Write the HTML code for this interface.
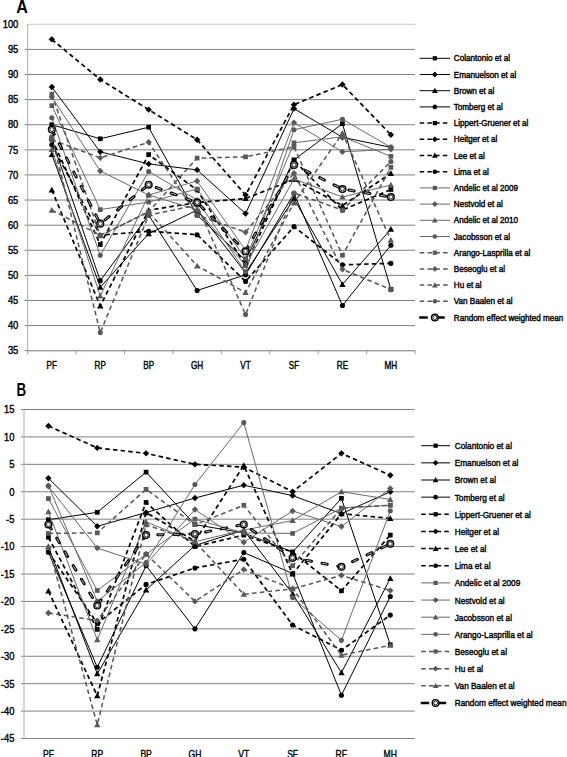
<!DOCTYPE html>
<html><head><meta charset="utf-8"><style>
html,body{margin:0;padding:0;background:#fff;}
body{width:567px;height:757px;overflow:hidden;}
svg{display:block;}
</style></head><body>
<svg width="567" height="757" viewBox="0 0 567 757">
<rect width="567" height="757" fill="#fff"/>
<text x="16.3" y="12.9" font-size="18.5" font-weight="bold" font-family="Liberation Sans, sans-serif" transform="translate(16.3,0) scale(0.87,1) translate(-16.3,0)">A</text>
<text x="16.6" y="396.5" font-size="18.5" font-weight="bold" font-family="Liberation Sans, sans-serif" transform="translate(16.6,0) scale(0.72,1) translate(-16.6,0)">B</text>
<line x1="27.60" y1="24.30" x2="415.10" y2="24.30" stroke="#c8c8c8" stroke-width="1"/>
<text x="18.30" y="28.05" text-anchor="end" font-size="10.4" font-family="Liberation Sans, sans-serif" fill="#000" stroke="#000" stroke-width="0.4" transform="translate(18.30,0) scale(0.9,1) translate(-18.30,0)">100</text>
<line x1="24.60" y1="49.41" x2="415.10" y2="49.41" stroke="#7f7f7f" stroke-width="1"/>
<text x="18.30" y="53.16" text-anchor="end" font-size="10.4" font-family="Liberation Sans, sans-serif" fill="#000" stroke="#000" stroke-width="0.4" transform="translate(18.30,0) scale(0.9,1) translate(-18.30,0)">95</text>
<line x1="24.60" y1="74.52" x2="415.10" y2="74.52" stroke="#7f7f7f" stroke-width="1"/>
<text x="18.30" y="78.27" text-anchor="end" font-size="10.4" font-family="Liberation Sans, sans-serif" fill="#000" stroke="#000" stroke-width="0.4" transform="translate(18.30,0) scale(0.9,1) translate(-18.30,0)">90</text>
<line x1="24.60" y1="99.62" x2="415.10" y2="99.62" stroke="#7f7f7f" stroke-width="1"/>
<text x="18.30" y="103.37" text-anchor="end" font-size="10.4" font-family="Liberation Sans, sans-serif" fill="#000" stroke="#000" stroke-width="0.4" transform="translate(18.30,0) scale(0.9,1) translate(-18.30,0)">85</text>
<line x1="24.60" y1="124.73" x2="415.10" y2="124.73" stroke="#7f7f7f" stroke-width="1"/>
<text x="18.30" y="128.48" text-anchor="end" font-size="10.4" font-family="Liberation Sans, sans-serif" fill="#000" stroke="#000" stroke-width="0.4" transform="translate(18.30,0) scale(0.9,1) translate(-18.30,0)">80</text>
<line x1="24.60" y1="149.84" x2="415.10" y2="149.84" stroke="#7f7f7f" stroke-width="1"/>
<text x="18.30" y="153.59" text-anchor="end" font-size="10.4" font-family="Liberation Sans, sans-serif" fill="#000" stroke="#000" stroke-width="0.4" transform="translate(18.30,0) scale(0.9,1) translate(-18.30,0)">75</text>
<line x1="24.60" y1="174.95" x2="415.10" y2="174.95" stroke="#7f7f7f" stroke-width="1"/>
<text x="18.30" y="178.70" text-anchor="end" font-size="10.4" font-family="Liberation Sans, sans-serif" fill="#000" stroke="#000" stroke-width="0.4" transform="translate(18.30,0) scale(0.9,1) translate(-18.30,0)">70</text>
<line x1="24.60" y1="200.05" x2="415.10" y2="200.05" stroke="#7f7f7f" stroke-width="1"/>
<text x="18.30" y="203.80" text-anchor="end" font-size="10.4" font-family="Liberation Sans, sans-serif" fill="#000" stroke="#000" stroke-width="0.4" transform="translate(18.30,0) scale(0.9,1) translate(-18.30,0)">65</text>
<line x1="24.60" y1="225.16" x2="415.10" y2="225.16" stroke="#7f7f7f" stroke-width="1"/>
<text x="18.30" y="228.91" text-anchor="end" font-size="10.4" font-family="Liberation Sans, sans-serif" fill="#000" stroke="#000" stroke-width="0.4" transform="translate(18.30,0) scale(0.9,1) translate(-18.30,0)">60</text>
<line x1="24.60" y1="250.27" x2="415.10" y2="250.27" stroke="#7f7f7f" stroke-width="1"/>
<text x="18.30" y="254.02" text-anchor="end" font-size="10.4" font-family="Liberation Sans, sans-serif" fill="#000" stroke="#000" stroke-width="0.4" transform="translate(18.30,0) scale(0.9,1) translate(-18.30,0)">55</text>
<line x1="24.60" y1="275.38" x2="415.10" y2="275.38" stroke="#7f7f7f" stroke-width="1"/>
<text x="18.30" y="279.13" text-anchor="end" font-size="10.4" font-family="Liberation Sans, sans-serif" fill="#000" stroke="#000" stroke-width="0.4" transform="translate(18.30,0) scale(0.9,1) translate(-18.30,0)">50</text>
<line x1="24.60" y1="300.48" x2="415.10" y2="300.48" stroke="#7f7f7f" stroke-width="1"/>
<text x="18.30" y="304.23" text-anchor="end" font-size="10.4" font-family="Liberation Sans, sans-serif" fill="#000" stroke="#000" stroke-width="0.4" transform="translate(18.30,0) scale(0.9,1) translate(-18.30,0)">45</text>
<line x1="24.60" y1="325.59" x2="415.10" y2="325.59" stroke="#7f7f7f" stroke-width="1"/>
<text x="18.30" y="329.34" text-anchor="end" font-size="10.4" font-family="Liberation Sans, sans-serif" fill="#000" stroke="#000" stroke-width="0.4" transform="translate(18.30,0) scale(0.9,1) translate(-18.30,0)">40</text>
<line x1="24.60" y1="350.70" x2="415.10" y2="350.70" stroke="#7f7f7f" stroke-width="1"/>
<text x="18.30" y="354.45" text-anchor="end" font-size="10.4" font-family="Liberation Sans, sans-serif" fill="#000" stroke="#000" stroke-width="0.4" transform="translate(18.30,0) scale(0.9,1) translate(-18.30,0)">35</text>
<line x1="27.60" y1="24.30" x2="27.60" y2="353.70" stroke="#b4b4b4" stroke-width="1.1"/>
<line x1="27.60" y1="350.70" x2="415.10" y2="350.70" stroke="#9a9a9a" stroke-width="1"/>
<line x1="27.60" y1="350.70" x2="27.60" y2="354.20" stroke="#9a9a9a" stroke-width="1"/>
<line x1="76.04" y1="350.70" x2="76.04" y2="354.20" stroke="#9a9a9a" stroke-width="1"/>
<line x1="124.47" y1="350.70" x2="124.47" y2="354.20" stroke="#9a9a9a" stroke-width="1"/>
<line x1="172.91" y1="350.70" x2="172.91" y2="354.20" stroke="#9a9a9a" stroke-width="1"/>
<line x1="221.35" y1="350.70" x2="221.35" y2="354.20" stroke="#9a9a9a" stroke-width="1"/>
<line x1="269.79" y1="350.70" x2="269.79" y2="354.20" stroke="#9a9a9a" stroke-width="1"/>
<line x1="318.23" y1="350.70" x2="318.23" y2="354.20" stroke="#9a9a9a" stroke-width="1"/>
<line x1="366.66" y1="350.70" x2="366.66" y2="354.20" stroke="#9a9a9a" stroke-width="1"/>
<line x1="415.10" y1="350.70" x2="415.10" y2="354.20" stroke="#9a9a9a" stroke-width="1"/>
<text x="51.82" y="368.60" text-anchor="middle" font-size="10.2" font-family="Liberation Sans, sans-serif" fill="#000" stroke="#000" stroke-width="0.4" transform="translate(51.82,0) scale(0.8,1) translate(-51.82,0)">PF</text>
<text x="100.26" y="368.60" text-anchor="middle" font-size="10.2" font-family="Liberation Sans, sans-serif" fill="#000" stroke="#000" stroke-width="0.4" transform="translate(100.26,0) scale(0.8,1) translate(-100.26,0)">RP</text>
<text x="148.69" y="368.60" text-anchor="middle" font-size="10.2" font-family="Liberation Sans, sans-serif" fill="#000" stroke="#000" stroke-width="0.4" transform="translate(148.69,0) scale(0.8,1) translate(-148.69,0)">BP</text>
<text x="197.13" y="368.60" text-anchor="middle" font-size="10.2" font-family="Liberation Sans, sans-serif" fill="#000" stroke="#000" stroke-width="0.4" transform="translate(197.13,0) scale(0.8,1) translate(-197.13,0)">GH</text>
<text x="245.57" y="368.60" text-anchor="middle" font-size="10.2" font-family="Liberation Sans, sans-serif" fill="#000" stroke="#000" stroke-width="0.4" transform="translate(245.57,0) scale(0.8,1) translate(-245.57,0)">VT</text>
<text x="294.01" y="368.60" text-anchor="middle" font-size="10.2" font-family="Liberation Sans, sans-serif" fill="#000" stroke="#000" stroke-width="0.4" transform="translate(294.01,0) scale(0.8,1) translate(-294.01,0)">SF</text>
<text x="342.44" y="368.60" text-anchor="middle" font-size="10.2" font-family="Liberation Sans, sans-serif" fill="#000" stroke="#000" stroke-width="0.4" transform="translate(342.44,0) scale(0.8,1) translate(-342.44,0)">RE</text>
<text x="390.88" y="368.60" text-anchor="middle" font-size="10.2" font-family="Liberation Sans, sans-serif" fill="#000" stroke="#000" stroke-width="0.4" transform="translate(390.88,0) scale(0.8,1) translate(-390.88,0)">MH</text>
<polyline points="51.82,124.73 100.26,138.79 148.69,127.24 197.13,215.12 245.57,260.31 294.01,159.88 342.44,123.73 390.88,289.44" fill="none" stroke="#000" stroke-width="1.0" stroke-linejoin="round"/><rect x="49.47" y="122.38" width="4.70" height="4.70" fill="#000"/><rect x="97.91" y="136.44" width="4.70" height="4.70" fill="#000"/><rect x="146.34" y="124.89" width="4.70" height="4.70" fill="#000"/><rect x="194.78" y="212.77" width="4.70" height="4.70" fill="#000"/><rect x="243.22" y="257.96" width="4.70" height="4.70" fill="#000"/><rect x="291.66" y="157.53" width="4.70" height="4.70" fill="#000"/><rect x="340.09" y="121.38" width="4.70" height="4.70" fill="#000"/><rect x="388.53" y="287.09" width="4.70" height="4.70" fill="#000"/>
<polyline points="51.82,87.07 100.26,151.85 148.69,163.90 197.13,169.92 245.57,213.61 294.01,108.66 342.44,137.28 390.88,147.33" fill="none" stroke="#000" stroke-width="1.0" stroke-linejoin="round"/><path d="M51.82 83.87L55.02 87.07L51.82 90.27L48.62 87.07Z" fill="#000"/><path d="M100.26 148.65L103.46 151.85L100.26 155.05L97.06 151.85Z" fill="#000"/><path d="M148.69 160.70L151.89 163.90L148.69 167.10L145.49 163.90Z" fill="#000"/><path d="M197.13 166.72L200.33 169.92L197.13 173.12L193.93 169.92Z" fill="#000"/><path d="M245.57 210.41L248.77 213.61L245.57 216.81L242.37 213.61Z" fill="#000"/><path d="M294.01 105.46L297.21 108.66L294.01 111.86L290.81 108.66Z" fill="#000"/><path d="M342.44 134.08L345.64 137.28L342.44 140.48L339.24 137.28Z" fill="#000"/><path d="M390.88 144.13L394.08 147.33L390.88 150.53L387.68 147.33Z" fill="#000"/>
<polyline points="51.82,154.36 100.26,287.18 148.69,233.70 197.13,210.10 245.57,272.87 294.01,198.55 342.44,284.42 390.88,229.18" fill="none" stroke="#000" stroke-width="1.0" stroke-linejoin="round"/><path d="M51.82 151.16L55.02 156.92L48.62 156.92Z" fill="#000"/><path d="M100.26 283.98L103.46 289.74L97.06 289.74Z" fill="#000"/><path d="M148.69 230.50L151.89 236.26L145.49 236.26Z" fill="#000"/><path d="M197.13 206.90L200.33 212.66L193.93 212.66Z" fill="#000"/><path d="M245.57 269.67L248.77 275.43L242.37 275.43Z" fill="#000"/><path d="M294.01 195.35L297.21 201.11L290.81 201.11Z" fill="#000"/><path d="M342.44 281.22L345.64 286.98L339.24 286.98Z" fill="#000"/><path d="M390.88 225.98L394.08 231.74L387.68 231.74Z" fill="#000"/>
<polyline points="51.82,139.80 100.26,280.65 148.69,215.12 197.13,290.44 245.57,274.87 294.01,193.53 342.44,305.51 390.88,245.25" fill="none" stroke="#000" stroke-width="1.0" stroke-linejoin="round"/><circle cx="51.82" cy="139.80" r="2.55" fill="#000"/><circle cx="100.26" cy="280.65" r="2.55" fill="#000"/><circle cx="148.69" cy="215.12" r="2.55" fill="#000"/><circle cx="197.13" cy="290.44" r="2.55" fill="#000"/><circle cx="245.57" cy="274.87" r="2.55" fill="#000"/><circle cx="294.01" cy="193.53" r="2.55" fill="#000"/><circle cx="342.44" cy="305.51" r="2.55" fill="#000"/><circle cx="390.88" cy="245.25" r="2.55" fill="#000"/>
<polyline points="51.82,138.79 100.26,244.49 148.69,154.56 197.13,190.01 245.57,265.33 294.01,160.38 342.44,210.10 390.88,189.51" fill="none" stroke="#000" stroke-width="1.7" stroke-dasharray="4.5 3.2" stroke-linejoin="round"/><rect x="49.47" y="136.44" width="4.70" height="4.70" fill="#000"/><rect x="97.91" y="242.14" width="4.70" height="4.70" fill="#000"/><rect x="146.34" y="152.21" width="4.70" height="4.70" fill="#000"/><rect x="194.78" y="187.66" width="4.70" height="4.70" fill="#000"/><rect x="243.22" y="262.98" width="4.70" height="4.70" fill="#000"/><rect x="291.66" y="158.03" width="4.70" height="4.70" fill="#000"/><rect x="340.09" y="207.75" width="4.70" height="4.70" fill="#000"/><rect x="388.53" y="187.16" width="4.70" height="4.70" fill="#000"/>
<polyline points="51.82,39.36 100.26,79.54 148.69,109.67 197.13,139.80 245.57,195.03 294.01,104.64 342.44,84.56 390.88,134.77" fill="none" stroke="#000" stroke-width="1.7" stroke-dasharray="4.5 3.2" stroke-linejoin="round"/><path d="M51.82 36.16L55.02 39.36L51.82 42.56L48.62 39.36Z" fill="#000"/><path d="M100.26 76.34L103.46 79.54L100.26 82.74L97.06 79.54Z" fill="#000"/><path d="M148.69 106.47L151.89 109.67L148.69 112.87L145.49 109.67Z" fill="#000"/><path d="M197.13 136.60L200.33 139.80L197.13 143.00L193.93 139.80Z" fill="#000"/><path d="M245.57 191.83L248.77 195.03L245.57 198.23L242.37 195.03Z" fill="#000"/><path d="M294.01 101.44L297.21 104.64L294.01 107.84L290.81 104.64Z" fill="#000"/><path d="M342.44 81.36L345.64 84.56L342.44 87.76L339.24 84.56Z" fill="#000"/><path d="M390.88 131.57L394.08 134.77L390.88 137.97L387.68 134.77Z" fill="#000"/>
<polyline points="51.82,190.01 100.26,306.01 148.69,210.10 197.13,202.56 245.57,198.55 294.01,179.47 342.44,205.58 390.88,173.44" fill="none" stroke="#000" stroke-width="1.7" stroke-dasharray="4.5 3.2" stroke-linejoin="round"/><path d="M51.82 186.81L55.02 192.57L48.62 192.57Z" fill="#000"/><path d="M100.26 302.81L103.46 308.57L97.06 308.57Z" fill="#000"/><path d="M148.69 206.90L151.89 212.66L145.49 212.66Z" fill="#000"/><path d="M197.13 199.36L200.33 205.12L193.93 205.12Z" fill="#000"/><path d="M245.57 195.35L248.77 201.11L242.37 201.11Z" fill="#000"/><path d="M294.01 176.27L297.21 182.03L290.81 182.03Z" fill="#000"/><path d="M342.44 202.38L345.64 208.14L339.24 208.14Z" fill="#000"/><path d="M390.88 170.24L394.08 176.00L387.68 176.00Z" fill="#000"/>
<polyline points="51.82,144.82 100.26,235.20 148.69,231.19 197.13,234.70 245.57,281.40 294.01,226.67 342.44,264.83 390.88,263.33" fill="none" stroke="#000" stroke-width="1.7" stroke-dasharray="4.5 3.2" stroke-linejoin="round"/><circle cx="51.82" cy="144.82" r="2.55" fill="#000"/><circle cx="100.26" cy="235.20" r="2.55" fill="#000"/><circle cx="148.69" cy="231.19" r="2.55" fill="#000"/><circle cx="197.13" cy="234.70" r="2.55" fill="#000"/><circle cx="245.57" cy="281.40" r="2.55" fill="#000"/><circle cx="294.01" cy="226.67" r="2.55" fill="#000"/><circle cx="342.44" cy="264.83" r="2.55" fill="#000"/><circle cx="390.88" cy="263.33" r="2.55" fill="#000"/>
<polyline points="51.82,105.65 100.26,209.59 148.69,202.06 197.13,189.01 245.57,258.81 294.01,142.81 342.44,136.78 390.88,156.37" fill="none" stroke="#6a6a6a" stroke-width="1.0" stroke-linejoin="round"/><rect x="49.47" y="103.30" width="4.70" height="4.70" fill="#595959"/><rect x="97.91" y="207.24" width="4.70" height="4.70" fill="#595959"/><rect x="146.34" y="199.71" width="4.70" height="4.70" fill="#595959"/><rect x="194.78" y="186.66" width="4.70" height="4.70" fill="#595959"/><rect x="243.22" y="256.46" width="4.70" height="4.70" fill="#595959"/><rect x="291.66" y="140.46" width="4.70" height="4.70" fill="#595959"/><rect x="340.09" y="134.43" width="4.70" height="4.70" fill="#595959"/><rect x="388.53" y="154.02" width="4.70" height="4.70" fill="#595959"/>
<polyline points="51.82,97.11 100.26,170.93 148.69,195.03 197.13,180.97 245.57,250.27 294.01,122.72 342.44,151.85 390.88,149.34" fill="none" stroke="#6a6a6a" stroke-width="1.0" stroke-linejoin="round"/><path d="M51.82 93.91L55.02 97.11L51.82 100.31L48.62 97.11Z" fill="#595959"/><path d="M100.26 167.73L103.46 170.93L100.26 174.13L97.06 170.93Z" fill="#595959"/><path d="M148.69 191.83L151.89 195.03L148.69 198.23L145.49 195.03Z" fill="#595959"/><path d="M197.13 177.77L200.33 180.97L197.13 184.17L193.93 180.97Z" fill="#595959"/><path d="M245.57 247.07L248.77 250.27L245.57 253.47L242.37 250.27Z" fill="#595959"/><path d="M294.01 119.52L297.21 122.72L294.01 125.92L290.81 122.72Z" fill="#595959"/><path d="M342.44 148.65L345.64 151.85L342.44 155.05L339.24 151.85Z" fill="#595959"/><path d="M390.88 146.14L394.08 149.34L390.88 152.54L387.68 149.34Z" fill="#595959"/>
<polyline points="51.82,149.34 100.26,295.97 148.69,195.03 197.13,209.59 245.57,265.33 294.01,178.96 342.44,197.04 390.88,184.99" fill="none" stroke="#6a6a6a" stroke-width="1.0" stroke-linejoin="round"/><path d="M51.82 146.14L55.02 151.90L48.62 151.90Z" fill="#595959"/><path d="M100.26 292.77L103.46 298.53L97.06 298.53Z" fill="#595959"/><path d="M148.69 191.83L151.89 197.59L145.49 197.59Z" fill="#595959"/><path d="M197.13 206.39L200.33 212.15L193.93 212.15Z" fill="#595959"/><path d="M245.57 262.13L248.77 267.89L242.37 267.89Z" fill="#595959"/><path d="M294.01 175.76L297.21 181.52L290.81 181.52Z" fill="#595959"/><path d="M342.44 193.84L345.64 199.60L339.24 199.60Z" fill="#595959"/><path d="M390.88 181.79L394.08 187.55L387.68 187.55Z" fill="#595959"/>
<polyline points="51.82,117.70 100.26,255.29 148.69,171.43 197.13,200.05 245.57,271.86 294.01,129.75 342.44,119.21 390.88,147.33" fill="none" stroke="#6a6a6a" stroke-width="1.0" stroke-linejoin="round"/><circle cx="51.82" cy="117.70" r="2.55" fill="#595959"/><circle cx="100.26" cy="255.29" r="2.55" fill="#595959"/><circle cx="148.69" cy="171.43" r="2.55" fill="#595959"/><circle cx="197.13" cy="200.05" r="2.55" fill="#595959"/><circle cx="245.57" cy="271.86" r="2.55" fill="#595959"/><circle cx="294.01" cy="129.75" r="2.55" fill="#595959"/><circle cx="342.44" cy="119.21" r="2.55" fill="#595959"/><circle cx="390.88" cy="147.33" r="2.55" fill="#595959"/>
<polyline points="51.82,94.10 100.26,235.96 148.69,211.60 197.13,158.12 245.57,156.87 294.01,146.83 342.44,255.29 390.88,167.41" fill="none" stroke="#555" stroke-width="1.5" stroke-dasharray="4.6 3.2" stroke-linejoin="round"/><rect x="49.47" y="91.75" width="4.70" height="4.70" fill="#595959"/><rect x="97.91" y="233.61" width="4.70" height="4.70" fill="#595959"/><rect x="146.34" y="209.25" width="4.70" height="4.70" fill="#595959"/><rect x="194.78" y="155.77" width="4.70" height="4.70" fill="#595959"/><rect x="243.22" y="154.52" width="4.70" height="4.70" fill="#595959"/><rect x="291.66" y="144.48" width="4.70" height="4.70" fill="#595959"/><rect x="340.09" y="252.94" width="4.70" height="4.70" fill="#595959"/><rect x="388.53" y="165.06" width="4.70" height="4.70" fill="#595959"/>
<polyline points="51.82,139.80 100.26,157.87 148.69,142.31 197.13,215.12 245.57,232.19 294.01,173.19 342.44,269.35 390.88,289.44" fill="none" stroke="#555" stroke-width="1.5" stroke-dasharray="4.6 3.2" stroke-linejoin="round"/><path d="M51.82 136.60L55.02 139.80L51.82 143.00L48.62 139.80Z" fill="#595959"/><path d="M100.26 154.67L103.46 157.87L100.26 161.07L97.06 157.87Z" fill="#595959"/><path d="M148.69 139.11L151.89 142.31L148.69 145.51L145.49 142.31Z" fill="#595959"/><path d="M197.13 211.92L200.33 215.12L197.13 218.32L193.93 215.12Z" fill="#595959"/><path d="M245.57 228.99L248.77 232.19L245.57 235.39L242.37 232.19Z" fill="#595959"/><path d="M294.01 169.99L297.21 173.19L294.01 176.39L290.81 173.19Z" fill="#595959"/><path d="M342.44 266.15L345.64 269.35L342.44 272.55L339.24 269.35Z" fill="#595959"/><path d="M390.88 286.24L394.08 289.44L390.88 292.64L387.68 289.44Z" fill="#595959"/>
<polyline points="51.82,210.10 100.26,235.20 148.69,212.11 197.13,265.84 245.57,292.45 294.01,202.82 342.44,133.27 390.88,240.23" fill="none" stroke="#555" stroke-width="1.5" stroke-dasharray="4.6 3.2" stroke-linejoin="round"/><path d="M51.82 206.90L55.02 212.66L48.62 212.66Z" fill="#595959"/><path d="M100.26 232.00L103.46 237.76L97.06 237.76Z" fill="#595959"/><path d="M148.69 208.91L151.89 214.67L145.49 214.67Z" fill="#595959"/><path d="M197.13 262.64L200.33 268.40L193.93 268.40Z" fill="#595959"/><path d="M245.57 289.25L248.77 295.01L242.37 295.01Z" fill="#595959"/><path d="M294.01 199.62L297.21 205.38L290.81 205.38Z" fill="#595959"/><path d="M342.44 130.07L345.64 135.83L339.24 135.83Z" fill="#595959"/><path d="M390.88 237.03L394.08 242.79L387.68 242.79Z" fill="#595959"/>
<polyline points="51.82,136.78 100.26,332.62 148.69,215.12 197.13,205.08 245.57,314.54 294.01,193.02 342.44,210.10 390.88,161.64" fill="none" stroke="#555" stroke-width="1.5" stroke-dasharray="4.6 3.2" stroke-linejoin="round"/><circle cx="51.82" cy="136.78" r="2.55" fill="#595959"/><circle cx="100.26" cy="332.62" r="2.55" fill="#595959"/><circle cx="148.69" cy="215.12" r="2.55" fill="#595959"/><circle cx="197.13" cy="205.08" r="2.55" fill="#595959"/><circle cx="245.57" cy="314.54" r="2.55" fill="#595959"/><circle cx="294.01" cy="193.02" r="2.55" fill="#595959"/><circle cx="342.44" cy="210.10" r="2.55" fill="#595959"/><circle cx="390.88" cy="161.64" r="2.55" fill="#595959"/>
<polyline points="51.82,129.50 100.26,223.66 148.69,184.74 197.13,202.56 245.57,251.27 294.01,164.90 342.44,189.01 390.88,197.04" fill="none" stroke="#000" stroke-width="3.0" stroke-linecap="round" stroke-dasharray="5.3 10.7"/><polyline points="51.82,129.50 100.26,223.66 148.69,184.74 197.13,202.56 245.57,251.27 294.01,164.90 342.44,189.01 390.88,197.04" fill="none" stroke="#fff" stroke-opacity="0.85" stroke-width="0.85" stroke-linecap="round" stroke-dasharray="4.3 11.7" stroke-dashoffset="-0.5"/><circle cx="51.82" cy="129.50" r="3.35" fill="#fff" stroke="#000" stroke-width="1.45"/><circle cx="51.82" cy="129.50" r="1.95" fill="#fff" stroke="#111" stroke-width="0.90"/><circle cx="100.26" cy="223.66" r="3.35" fill="#fff" stroke="#000" stroke-width="1.45"/><circle cx="100.26" cy="223.66" r="1.95" fill="#fff" stroke="#111" stroke-width="0.90"/><circle cx="148.69" cy="184.74" r="3.35" fill="#fff" stroke="#000" stroke-width="1.45"/><circle cx="148.69" cy="184.74" r="1.95" fill="#fff" stroke="#111" stroke-width="0.90"/><circle cx="197.13" cy="202.56" r="3.35" fill="#fff" stroke="#000" stroke-width="1.45"/><circle cx="197.13" cy="202.56" r="1.95" fill="#fff" stroke="#111" stroke-width="0.90"/><circle cx="245.57" cy="251.27" r="3.35" fill="#fff" stroke="#000" stroke-width="1.45"/><circle cx="245.57" cy="251.27" r="1.95" fill="#fff" stroke="#111" stroke-width="0.90"/><circle cx="294.01" cy="164.90" r="3.35" fill="#fff" stroke="#000" stroke-width="1.45"/><circle cx="294.01" cy="164.90" r="1.95" fill="#fff" stroke="#111" stroke-width="0.90"/><circle cx="342.44" cy="189.01" r="3.35" fill="#fff" stroke="#000" stroke-width="1.45"/><circle cx="342.44" cy="189.01" r="1.95" fill="#fff" stroke="#111" stroke-width="0.90"/><circle cx="390.88" cy="197.04" r="3.35" fill="#fff" stroke="#000" stroke-width="1.45"/><circle cx="390.88" cy="197.04" r="1.95" fill="#fff" stroke="#111" stroke-width="0.90"/>
<line x1="419.70" y1="58.30" x2="450.00" y2="58.30" stroke="#000" stroke-width="1.0"/>
<rect x="432.74" y="56.18" width="4.23" height="4.23" fill="#000"/>
<text x="453.80" y="61.50" font-size="9" font-family="Liberation Sans, sans-serif" fill="#000" stroke="#000" stroke-width="0.42" transform="translate(453.80,0) scale(0.9,1) translate(-453.80,0)">Colantonio et al</text>
<line x1="419.70" y1="74.50" x2="450.00" y2="74.50" stroke="#000" stroke-width="1.0"/>
<path d="M434.85 71.62L437.73 74.50L434.85 77.38L431.97 74.50Z" fill="#000"/>
<text x="453.80" y="77.70" font-size="9" font-family="Liberation Sans, sans-serif" fill="#000" stroke="#000" stroke-width="0.42" transform="translate(453.80,0) scale(0.9,1) translate(-453.80,0)">Emanuelson et al</text>
<line x1="419.70" y1="90.70" x2="450.00" y2="90.70" stroke="#000" stroke-width="1.0"/>
<path d="M434.85 87.82L437.73 93.00L431.97 93.00Z" fill="#000"/>
<text x="453.80" y="93.90" font-size="9" font-family="Liberation Sans, sans-serif" fill="#000" stroke="#000" stroke-width="0.42" transform="translate(453.80,0) scale(0.9,1) translate(-453.80,0)">Brown et al</text>
<line x1="419.70" y1="106.90" x2="450.00" y2="106.90" stroke="#000" stroke-width="1.0"/>
<circle cx="434.85" cy="106.90" r="2.29" fill="#000"/>
<text x="453.80" y="110.10" font-size="9" font-family="Liberation Sans, sans-serif" fill="#000" stroke="#000" stroke-width="0.42" transform="translate(453.80,0) scale(0.9,1) translate(-453.80,0)">Tomberg et al</text>
<line x1="419.70" y1="123.10" x2="450.00" y2="123.10" stroke="#000" stroke-width="1.5" stroke-dasharray="4.5 3.2"/>
<rect x="432.74" y="120.98" width="4.23" height="4.23" fill="#000"/>
<text x="453.80" y="126.30" font-size="9" font-family="Liberation Sans, sans-serif" fill="#000" stroke="#000" stroke-width="0.42" transform="translate(453.80,0) scale(0.9,1) translate(-453.80,0)">Lippert-Gruener et al</text>
<line x1="419.70" y1="139.30" x2="450.00" y2="139.30" stroke="#000" stroke-width="1.5" stroke-dasharray="4.5 3.2"/>
<path d="M434.85 136.42L437.73 139.30L434.85 142.18L431.97 139.30Z" fill="#000"/>
<text x="453.80" y="142.50" font-size="9" font-family="Liberation Sans, sans-serif" fill="#000" stroke="#000" stroke-width="0.42" transform="translate(453.80,0) scale(0.9,1) translate(-453.80,0)">Heitger et al</text>
<line x1="419.70" y1="155.50" x2="450.00" y2="155.50" stroke="#000" stroke-width="1.5" stroke-dasharray="4.5 3.2"/>
<path d="M434.85 152.62L437.73 157.80L431.97 157.80Z" fill="#000"/>
<text x="453.80" y="158.70" font-size="9" font-family="Liberation Sans, sans-serif" fill="#000" stroke="#000" stroke-width="0.42" transform="translate(453.80,0) scale(0.9,1) translate(-453.80,0)">Lee et al</text>
<line x1="419.70" y1="171.70" x2="450.00" y2="171.70" stroke="#000" stroke-width="1.5" stroke-dasharray="4.5 3.2"/>
<circle cx="434.85" cy="171.70" r="2.29" fill="#000"/>
<text x="453.80" y="174.90" font-size="9" font-family="Liberation Sans, sans-serif" fill="#000" stroke="#000" stroke-width="0.42" transform="translate(453.80,0) scale(0.9,1) translate(-453.80,0)">Lima et al</text>
<line x1="419.70" y1="187.90" x2="450.00" y2="187.90" stroke="#6a6a6a" stroke-width="1.0"/>
<rect x="432.74" y="185.78" width="4.23" height="4.23" fill="#595959"/>
<text x="453.80" y="191.10" font-size="9" font-family="Liberation Sans, sans-serif" fill="#000" stroke="#000" stroke-width="0.42" transform="translate(453.80,0) scale(0.9,1) translate(-453.80,0)">Andelic et al 2009</text>
<line x1="419.70" y1="204.10" x2="450.00" y2="204.10" stroke="#6a6a6a" stroke-width="1.0"/>
<path d="M434.85 201.22L437.73 204.10L434.85 206.98L431.97 204.10Z" fill="#595959"/>
<text x="453.80" y="207.30" font-size="9" font-family="Liberation Sans, sans-serif" fill="#000" stroke="#000" stroke-width="0.42" transform="translate(453.80,0) scale(0.9,1) translate(-453.80,0)">Nestvold et al</text>
<line x1="419.70" y1="220.30" x2="450.00" y2="220.30" stroke="#6a6a6a" stroke-width="1.0"/>
<path d="M434.85 217.42L437.73 222.60L431.97 222.60Z" fill="#595959"/>
<text x="453.80" y="223.50" font-size="9" font-family="Liberation Sans, sans-serif" fill="#000" stroke="#000" stroke-width="0.42" transform="translate(453.80,0) scale(0.9,1) translate(-453.80,0)">Andelic et al 2010</text>
<line x1="419.70" y1="236.50" x2="450.00" y2="236.50" stroke="#6a6a6a" stroke-width="1.0"/>
<circle cx="434.85" cy="236.50" r="2.29" fill="#595959"/>
<text x="453.80" y="239.70" font-size="9" font-family="Liberation Sans, sans-serif" fill="#000" stroke="#000" stroke-width="0.42" transform="translate(453.80,0) scale(0.9,1) translate(-453.80,0)">Jacobsson et al</text>
<line x1="419.70" y1="252.70" x2="450.00" y2="252.70" stroke="#555" stroke-width="1.5" stroke-dasharray="4.6 3.2"/>
<rect x="432.74" y="250.58" width="4.23" height="4.23" fill="#595959"/>
<text x="453.80" y="255.90" font-size="9" font-family="Liberation Sans, sans-serif" fill="#000" stroke="#000" stroke-width="0.42" transform="translate(453.80,0) scale(0.9,1) translate(-453.80,0)">Arango-Lasprilla et al</text>
<line x1="419.70" y1="268.90" x2="450.00" y2="268.90" stroke="#555" stroke-width="1.5" stroke-dasharray="4.6 3.2"/>
<path d="M434.85 266.02L437.73 268.90L434.85 271.78L431.97 268.90Z" fill="#595959"/>
<text x="453.80" y="272.10" font-size="9" font-family="Liberation Sans, sans-serif" fill="#000" stroke="#000" stroke-width="0.42" transform="translate(453.80,0) scale(0.9,1) translate(-453.80,0)">Beseoglu et al</text>
<line x1="419.70" y1="285.10" x2="450.00" y2="285.10" stroke="#555" stroke-width="1.5" stroke-dasharray="4.6 3.2"/>
<path d="M434.85 282.22L437.73 287.40L431.97 287.40Z" fill="#595959"/>
<text x="453.80" y="288.30" font-size="9" font-family="Liberation Sans, sans-serif" fill="#000" stroke="#000" stroke-width="0.42" transform="translate(453.80,0) scale(0.9,1) translate(-453.80,0)">Hu et al</text>
<line x1="419.70" y1="301.30" x2="450.00" y2="301.30" stroke="#555" stroke-width="1.5" stroke-dasharray="4.6 3.2"/>
<circle cx="434.85" cy="301.30" r="2.29" fill="#595959"/>
<text x="453.80" y="304.50" font-size="9" font-family="Liberation Sans, sans-serif" fill="#000" stroke="#000" stroke-width="0.42" transform="translate(453.80,0) scale(0.9,1) translate(-453.80,0)">Van Baalen et al</text>
<line x1="419.20" y1="317.50" x2="450.00" y2="317.50" stroke="#000" stroke-width="2.6" stroke-dasharray="8.5 8.5"/>
<circle cx="434.85" cy="317.50" r="3.35" fill="#fff" stroke="#000" stroke-width="1.45"/><circle cx="434.85" cy="317.50" r="1.95" fill="#fff" stroke="#111" stroke-width="0.90"/>
<text x="453.80" y="320.70" font-size="9" font-family="Liberation Sans, sans-serif" fill="#000" stroke="#000" stroke-width="0.42" transform="translate(453.80,0) scale(0.9,1) translate(-453.80,0)">Random effect weighted mean</text>
<line x1="21.00" y1="409.50" x2="414.70" y2="409.50" stroke="#7f7f7f" stroke-width="1"/>
<text x="14.40" y="413.40" text-anchor="end" font-size="10.9" font-family="Liberation Sans, sans-serif" fill="#000" stroke="#000" stroke-width="0.4" transform="translate(14.40,0) scale(0.86,1) translate(-14.40,0)">15</text>
<line x1="21.00" y1="436.92" x2="414.70" y2="436.92" stroke="#7f7f7f" stroke-width="1"/>
<text x="14.40" y="440.82" text-anchor="end" font-size="10.9" font-family="Liberation Sans, sans-serif" fill="#000" stroke="#000" stroke-width="0.4" transform="translate(14.40,0) scale(0.86,1) translate(-14.40,0)">10</text>
<line x1="21.00" y1="464.33" x2="414.70" y2="464.33" stroke="#7f7f7f" stroke-width="1"/>
<text x="14.40" y="468.23" text-anchor="end" font-size="10.9" font-family="Liberation Sans, sans-serif" fill="#000" stroke="#000" stroke-width="0.4" transform="translate(14.40,0) scale(0.86,1) translate(-14.40,0)">5</text>
<line x1="21.00" y1="491.75" x2="414.70" y2="491.75" stroke="#7f7f7f" stroke-width="1"/>
<text x="14.40" y="495.65" text-anchor="end" font-size="10.9" font-family="Liberation Sans, sans-serif" fill="#000" stroke="#000" stroke-width="0.4" transform="translate(14.40,0) scale(0.86,1) translate(-14.40,0)">0</text>
<line x1="21.00" y1="519.17" x2="414.70" y2="519.17" stroke="#7f7f7f" stroke-width="1"/>
<text x="14.40" y="523.07" text-anchor="end" font-size="10.9" font-family="Liberation Sans, sans-serif" fill="#000" stroke="#000" stroke-width="0.4" transform="translate(14.40,0) scale(0.86,1) translate(-14.40,0)">-5</text>
<line x1="21.00" y1="546.58" x2="414.70" y2="546.58" stroke="#7f7f7f" stroke-width="1"/>
<text x="14.40" y="550.48" text-anchor="end" font-size="10.9" font-family="Liberation Sans, sans-serif" fill="#000" stroke="#000" stroke-width="0.4" transform="translate(14.40,0) scale(0.86,1) translate(-14.40,0)">-10</text>
<line x1="21.00" y1="574.00" x2="414.70" y2="574.00" stroke="#7f7f7f" stroke-width="1"/>
<text x="14.40" y="577.90" text-anchor="end" font-size="10.9" font-family="Liberation Sans, sans-serif" fill="#000" stroke="#000" stroke-width="0.4" transform="translate(14.40,0) scale(0.86,1) translate(-14.40,0)">-15</text>
<line x1="21.00" y1="601.42" x2="414.70" y2="601.42" stroke="#7f7f7f" stroke-width="1"/>
<text x="14.40" y="605.32" text-anchor="end" font-size="10.9" font-family="Liberation Sans, sans-serif" fill="#000" stroke="#000" stroke-width="0.4" transform="translate(14.40,0) scale(0.86,1) translate(-14.40,0)">-20</text>
<line x1="21.00" y1="628.83" x2="414.70" y2="628.83" stroke="#7f7f7f" stroke-width="1"/>
<text x="14.40" y="632.73" text-anchor="end" font-size="10.9" font-family="Liberation Sans, sans-serif" fill="#000" stroke="#000" stroke-width="0.4" transform="translate(14.40,0) scale(0.86,1) translate(-14.40,0)">-25</text>
<line x1="21.00" y1="656.25" x2="414.70" y2="656.25" stroke="#7f7f7f" stroke-width="1"/>
<text x="14.40" y="660.15" text-anchor="end" font-size="10.9" font-family="Liberation Sans, sans-serif" fill="#000" stroke="#000" stroke-width="0.4" transform="translate(14.40,0) scale(0.86,1) translate(-14.40,0)">-30</text>
<line x1="21.00" y1="683.67" x2="414.70" y2="683.67" stroke="#7f7f7f" stroke-width="1"/>
<text x="14.40" y="687.57" text-anchor="end" font-size="10.9" font-family="Liberation Sans, sans-serif" fill="#000" stroke="#000" stroke-width="0.4" transform="translate(14.40,0) scale(0.86,1) translate(-14.40,0)">-35</text>
<line x1="21.00" y1="711.08" x2="414.70" y2="711.08" stroke="#7f7f7f" stroke-width="1"/>
<text x="14.40" y="714.98" text-anchor="end" font-size="10.9" font-family="Liberation Sans, sans-serif" fill="#000" stroke="#000" stroke-width="0.4" transform="translate(14.40,0) scale(0.86,1) translate(-14.40,0)">-40</text>
<line x1="21.00" y1="738.50" x2="414.70" y2="738.50" stroke="#7f7f7f" stroke-width="1"/>
<text x="14.40" y="742.40" text-anchor="end" font-size="10.9" font-family="Liberation Sans, sans-serif" fill="#000" stroke="#000" stroke-width="0.4" transform="translate(14.40,0) scale(0.86,1) translate(-14.40,0)">-45</text>
<line x1="24.00" y1="409.50" x2="24.00" y2="738.50" stroke="#b4b4b4" stroke-width="1.1"/>
<text x="48.42" y="758.30" text-anchor="middle" font-size="10.7" font-family="Liberation Sans, sans-serif" fill="#000" stroke="#000" stroke-width="0.4" transform="translate(48.42,0) scale(0.8,1) translate(-48.42,0)">PF</text>
<text x="97.26" y="758.30" text-anchor="middle" font-size="10.7" font-family="Liberation Sans, sans-serif" fill="#000" stroke="#000" stroke-width="0.4" transform="translate(97.26,0) scale(0.8,1) translate(-97.26,0)">RP</text>
<text x="146.09" y="758.30" text-anchor="middle" font-size="10.7" font-family="Liberation Sans, sans-serif" fill="#000" stroke="#000" stroke-width="0.4" transform="translate(146.09,0) scale(0.8,1) translate(-146.09,0)">BP</text>
<text x="194.93" y="758.30" text-anchor="middle" font-size="10.7" font-family="Liberation Sans, sans-serif" fill="#000" stroke="#000" stroke-width="0.4" transform="translate(194.93,0) scale(0.8,1) translate(-194.93,0)">GH</text>
<text x="243.77" y="758.30" text-anchor="middle" font-size="10.7" font-family="Liberation Sans, sans-serif" fill="#000" stroke="#000" stroke-width="0.4" transform="translate(243.77,0) scale(0.8,1) translate(-243.77,0)">VT</text>
<text x="292.61" y="758.30" text-anchor="middle" font-size="10.7" font-family="Liberation Sans, sans-serif" fill="#000" stroke="#000" stroke-width="0.4" transform="translate(292.61,0) scale(0.8,1) translate(-292.61,0)">SF</text>
<text x="341.44" y="758.30" text-anchor="middle" font-size="10.7" font-family="Liberation Sans, sans-serif" fill="#000" stroke="#000" stroke-width="0.4" transform="translate(341.44,0) scale(0.8,1) translate(-341.44,0)">RE</text>
<text x="390.28" y="758.30" text-anchor="middle" font-size="10.7" font-family="Liberation Sans, sans-serif" fill="#000" stroke="#000" stroke-width="0.4" transform="translate(390.28,0) scale(0.8,1) translate(-390.28,0)">MH</text>
<polyline points="48.42,519.72 97.26,512.31 146.09,472.12 194.93,524.65 243.77,532.88 292.61,552.07 341.44,498.33 390.28,644.74" fill="none" stroke="#000" stroke-width="1.0" stroke-linejoin="round"/><rect x="46.07" y="517.37" width="4.70" height="4.70" fill="#000"/><rect x="94.91" y="509.96" width="4.70" height="4.70" fill="#000"/><rect x="143.74" y="469.77" width="4.70" height="4.70" fill="#000"/><rect x="192.58" y="522.30" width="4.70" height="4.70" fill="#000"/><rect x="241.42" y="530.52" width="4.70" height="4.70" fill="#000"/><rect x="290.26" y="549.72" width="4.70" height="4.70" fill="#000"/><rect x="339.09" y="495.98" width="4.70" height="4.70" fill="#000"/><rect x="387.93" y="642.38" width="4.70" height="4.70" fill="#000"/>
<polyline points="48.42,478.26 97.26,526.29 146.09,512.59 194.93,498.06 243.77,485.17 292.61,495.59 341.44,513.68 390.28,491.75" fill="none" stroke="#000" stroke-width="1.0" stroke-linejoin="round"/><path d="M48.42 475.06L51.62 478.26L48.42 481.46L45.22 478.26Z" fill="#000"/><path d="M97.26 523.09L100.46 526.29L97.26 529.50L94.06 526.29Z" fill="#000"/><path d="M146.09 509.39L149.29 512.59L146.09 515.79L142.89 512.59Z" fill="#000"/><path d="M194.93 494.86L198.13 498.06L194.93 501.26L191.73 498.06Z" fill="#000"/><path d="M243.77 481.97L246.97 485.17L243.77 488.37L240.57 485.17Z" fill="#000"/><path d="M292.61 492.39L295.81 495.59L292.61 498.79L289.41 495.59Z" fill="#000"/><path d="M341.44 510.48L344.64 513.68L341.44 516.88L338.24 513.68Z" fill="#000"/><path d="M390.28 488.55L393.48 491.75L390.28 494.95L387.08 491.75Z" fill="#000"/>
<polyline points="48.42,546.58 97.26,673.80 146.09,589.90 194.93,545.49 243.77,530.13 292.61,593.74 341.44,672.70 390.28,578.39" fill="none" stroke="#000" stroke-width="1.0" stroke-linejoin="round"/><path d="M48.42 543.38L51.62 549.14L45.22 549.14Z" fill="#000"/><path d="M97.26 670.60L100.46 676.36L94.06 676.36Z" fill="#000"/><path d="M146.09 586.70L149.29 592.46L142.89 592.46Z" fill="#000"/><path d="M194.93 542.29L198.13 548.05L191.73 548.05Z" fill="#000"/><path d="M243.77 526.93L246.97 532.69L240.57 532.69Z" fill="#000"/><path d="M292.61 590.54L295.81 596.30L289.41 596.30Z" fill="#000"/><path d="M341.44 669.50L344.64 675.26L338.24 675.26Z" fill="#000"/><path d="M390.28 575.19L393.48 580.95L387.08 580.95Z" fill="#000"/>
<polyline points="48.42,552.07 97.26,667.22 146.09,565.77 194.93,628.83 243.77,552.62 292.61,573.45 341.44,695.18 390.28,596.48" fill="none" stroke="#000" stroke-width="1.0" stroke-linejoin="round"/><circle cx="48.42" cy="552.07" r="2.55" fill="#000"/><circle cx="97.26" cy="667.22" r="2.55" fill="#000"/><circle cx="146.09" cy="565.77" r="2.55" fill="#000"/><circle cx="194.93" cy="628.83" r="2.55" fill="#000"/><circle cx="243.77" cy="552.62" r="2.55" fill="#000"/><circle cx="292.61" cy="573.45" r="2.55" fill="#000"/><circle cx="341.44" cy="695.18" r="2.55" fill="#000"/><circle cx="390.28" cy="596.48" r="2.55" fill="#000"/>
<polyline points="48.42,537.26 97.26,629.38 146.09,502.44 194.93,546.58 243.77,535.07 292.61,552.07 341.44,590.83 390.28,535.07" fill="none" stroke="#000" stroke-width="1.7" stroke-dasharray="4.5 3.2" stroke-linejoin="round"/><rect x="46.07" y="534.91" width="4.70" height="4.70" fill="#000"/><rect x="94.91" y="627.03" width="4.70" height="4.70" fill="#000"/><rect x="143.74" y="500.09" width="4.70" height="4.70" fill="#000"/><rect x="192.58" y="544.23" width="4.70" height="4.70" fill="#000"/><rect x="241.42" y="532.72" width="4.70" height="4.70" fill="#000"/><rect x="290.26" y="549.72" width="4.70" height="4.70" fill="#000"/><rect x="339.09" y="588.48" width="4.70" height="4.70" fill="#000"/><rect x="387.93" y="532.72" width="4.70" height="4.70" fill="#000"/>
<polyline points="48.42,425.95 97.26,447.88 146.09,453.37 194.93,464.33 243.77,467.07 292.61,491.75 341.44,453.37 390.28,475.30" fill="none" stroke="#000" stroke-width="1.7" stroke-dasharray="4.5 3.2" stroke-linejoin="round"/><path d="M48.42 422.75L51.62 425.95L48.42 429.15L45.22 425.95Z" fill="#000"/><path d="M97.26 444.68L100.46 447.88L97.26 451.08L94.06 447.88Z" fill="#000"/><path d="M146.09 450.17L149.29 453.37L146.09 456.57L142.89 453.37Z" fill="#000"/><path d="M194.93 461.13L198.13 464.33L194.93 467.53L191.73 464.33Z" fill="#000"/><path d="M243.77 463.88L246.97 467.07L243.77 470.27L240.57 467.07Z" fill="#000"/><path d="M292.61 488.55L295.81 491.75L292.61 494.95L289.41 491.75Z" fill="#000"/><path d="M341.44 450.17L344.64 453.37L341.44 456.57L338.24 453.37Z" fill="#000"/><path d="M390.28 472.10L393.48 475.30L390.28 478.50L387.08 475.30Z" fill="#000"/>
<polyline points="48.42,591.00 97.26,695.73 146.09,512.59 194.93,541.10 243.77,465.43 292.61,574.00 341.44,513.68 390.28,518.45" fill="none" stroke="#000" stroke-width="1.7" stroke-dasharray="4.5 3.2" stroke-linejoin="round"/><path d="M48.42 587.80L51.62 593.56L45.22 593.56Z" fill="#000"/><path d="M97.26 692.53L100.46 698.29L94.06 698.29Z" fill="#000"/><path d="M146.09 509.39L149.29 515.15L142.89 515.15Z" fill="#000"/><path d="M194.93 537.90L198.13 543.66L191.73 543.66Z" fill="#000"/><path d="M243.77 462.23L246.97 467.99L240.57 467.99Z" fill="#000"/><path d="M292.61 570.80L295.81 576.56L289.41 576.56Z" fill="#000"/><path d="M341.44 510.48L344.64 516.24L338.24 516.24Z" fill="#000"/><path d="M390.28 515.25L393.48 521.01L387.08 521.01Z" fill="#000"/>
<polyline points="48.42,552.07 97.26,623.35 146.09,584.42 194.93,567.97 243.77,559.19 292.61,625.00 341.44,650.22 390.28,615.12" fill="none" stroke="#000" stroke-width="1.7" stroke-dasharray="4.5 3.2" stroke-linejoin="round"/><circle cx="48.42" cy="552.07" r="2.55" fill="#000"/><circle cx="97.26" cy="623.35" r="2.55" fill="#000"/><circle cx="146.09" cy="584.42" r="2.55" fill="#000"/><circle cx="194.93" cy="567.97" r="2.55" fill="#000"/><circle cx="243.77" cy="559.19" r="2.55" fill="#000"/><circle cx="292.61" cy="625.00" r="2.55" fill="#000"/><circle cx="341.44" cy="650.22" r="2.55" fill="#000"/><circle cx="390.28" cy="615.12" r="2.55" fill="#000"/>
<polyline points="48.42,498.55 97.26,590.45 146.09,554.26 194.93,519.17 243.77,532.88 292.61,533.42 341.44,508.20 390.28,505.18" fill="none" stroke="#6a6a6a" stroke-width="1.0" stroke-linejoin="round"/><rect x="46.07" y="496.20" width="4.70" height="4.70" fill="#595959"/><rect x="94.91" y="588.10" width="4.70" height="4.70" fill="#595959"/><rect x="143.74" y="551.91" width="4.70" height="4.70" fill="#595959"/><rect x="192.58" y="516.82" width="4.70" height="4.70" fill="#595959"/><rect x="241.42" y="530.52" width="4.70" height="4.70" fill="#595959"/><rect x="290.26" y="531.07" width="4.70" height="4.70" fill="#595959"/><rect x="339.09" y="505.85" width="4.70" height="4.70" fill="#595959"/><rect x="387.93" y="502.83" width="4.70" height="4.70" fill="#595959"/>
<polyline points="48.42,486.27 97.26,548.06 146.09,564.13 194.93,509.57 243.77,542.20 292.61,510.94 341.44,526.57 390.28,488.46" fill="none" stroke="#6a6a6a" stroke-width="1.0" stroke-linejoin="round"/><path d="M48.42 483.07L51.62 486.27L48.42 489.47L45.22 486.27Z" fill="#595959"/><path d="M97.26 544.86L100.46 548.06L97.26 551.26L94.06 548.06Z" fill="#595959"/><path d="M146.09 560.93L149.29 564.13L146.09 567.33L142.89 564.13Z" fill="#595959"/><path d="M194.93 506.37L198.13 509.57L194.93 512.77L191.73 509.57Z" fill="#595959"/><path d="M243.77 539.00L246.97 542.20L243.77 545.40L240.57 542.20Z" fill="#595959"/><path d="M292.61 507.74L295.81 510.94L292.61 514.14L289.41 510.94Z" fill="#595959"/><path d="M341.44 523.37L344.64 526.57L341.44 529.77L338.24 526.57Z" fill="#595959"/><path d="M390.28 485.26L393.48 488.46L390.28 491.66L387.08 488.46Z" fill="#595959"/>
<polyline points="48.42,511.76 97.26,639.80 146.09,521.91 194.93,541.65 243.77,530.13 292.61,520.54 341.44,491.75 390.28,499.43" fill="none" stroke="#6a6a6a" stroke-width="1.0" stroke-linejoin="round"/><path d="M48.42 508.56L51.62 514.32L45.22 514.32Z" fill="#595959"/><path d="M97.26 636.60L100.46 642.36L94.06 642.36Z" fill="#595959"/><path d="M146.09 518.71L149.29 524.47L142.89 524.47Z" fill="#595959"/><path d="M194.93 538.45L198.13 544.21L191.73 544.21Z" fill="#595959"/><path d="M243.77 526.93L246.97 532.69L240.57 532.69Z" fill="#595959"/><path d="M292.61 517.34L295.81 523.10L289.41 523.10Z" fill="#595959"/><path d="M341.44 488.55L344.64 494.31L338.24 494.31Z" fill="#595959"/><path d="M390.28 496.23L393.48 501.99L387.08 501.99Z" fill="#595959"/>
<polyline points="48.42,485.72 97.26,601.42 146.09,562.49 194.93,484.57 243.77,422.66 292.61,597.58 341.44,640.35 390.28,510.78" fill="none" stroke="#6a6a6a" stroke-width="1.0" stroke-linejoin="round"/><circle cx="48.42" cy="485.72" r="2.55" fill="#595959"/><circle cx="97.26" cy="601.42" r="2.55" fill="#595959"/><circle cx="146.09" cy="562.49" r="2.55" fill="#595959"/><circle cx="194.93" cy="484.57" r="2.55" fill="#595959"/><circle cx="243.77" cy="422.66" r="2.55" fill="#595959"/><circle cx="292.61" cy="597.58" r="2.55" fill="#595959"/><circle cx="341.44" cy="640.35" r="2.55" fill="#595959"/><circle cx="390.28" cy="510.78" r="2.55" fill="#595959"/>
<polyline points="48.42,533.42 97.26,532.88 146.09,489.34 194.93,524.65 243.77,505.24 292.61,565.77 341.44,508.20 390.28,505.18" fill="none" stroke="#555" stroke-width="1.5" stroke-dasharray="4.6 3.2" stroke-linejoin="round"/><rect x="46.07" y="531.07" width="4.70" height="4.70" fill="#595959"/><rect x="94.91" y="530.52" width="4.70" height="4.70" fill="#595959"/><rect x="143.74" y="486.99" width="4.70" height="4.70" fill="#595959"/><rect x="192.58" y="522.30" width="4.70" height="4.70" fill="#595959"/><rect x="241.42" y="502.89" width="4.70" height="4.70" fill="#595959"/><rect x="290.26" y="563.42" width="4.70" height="4.70" fill="#595959"/><rect x="339.09" y="505.85" width="4.70" height="4.70" fill="#595959"/><rect x="387.93" y="502.83" width="4.70" height="4.70" fill="#595959"/>
<polyline points="48.42,612.93 97.26,620.61 146.09,553.99 194.93,601.42 243.77,569.61 292.61,588.81 341.44,575.37 390.28,590.45" fill="none" stroke="#555" stroke-width="1.5" stroke-dasharray="4.6 3.2" stroke-linejoin="round"/><path d="M48.42 609.73L51.62 612.93L48.42 616.13L45.22 612.93Z" fill="#595959"/><path d="M97.26 617.41L100.46 620.61L97.26 623.81L94.06 620.61Z" fill="#595959"/><path d="M146.09 550.79L149.29 553.99L146.09 557.19L142.89 553.99Z" fill="#595959"/><path d="M194.93 598.22L198.13 601.42L194.93 604.62L191.73 601.42Z" fill="#595959"/><path d="M243.77 566.41L246.97 569.61L243.77 572.81L240.57 569.61Z" fill="#595959"/><path d="M292.61 585.61L295.81 588.81L292.61 592.01L289.41 588.81Z" fill="#595959"/><path d="M341.44 572.17L344.64 575.37L341.44 578.57L338.24 575.37Z" fill="#595959"/><path d="M390.28 587.25L393.48 590.45L390.28 593.65L387.08 590.45Z" fill="#595959"/>
<polyline points="48.42,546.58 97.26,724.79 146.09,524.65 194.93,541.65 243.77,594.29 292.61,588.81 341.44,655.15 390.28,645.28" fill="none" stroke="#555" stroke-width="1.5" stroke-dasharray="4.6 3.2" stroke-linejoin="round"/><path d="M48.42 543.38L51.62 549.14L45.22 549.14Z" fill="#595959"/><path d="M97.26 721.59L100.46 727.35L94.06 727.35Z" fill="#595959"/><path d="M146.09 521.45L149.29 527.21L142.89 527.21Z" fill="#595959"/><path d="M194.93 538.45L198.13 544.21L191.73 544.21Z" fill="#595959"/><path d="M243.77 591.09L246.97 596.85L240.57 596.85Z" fill="#595959"/><path d="M292.61 585.61L295.81 591.37L289.41 591.37Z" fill="#595959"/><path d="M341.44 651.95L344.64 657.71L338.24 657.71Z" fill="#595959"/><path d="M390.28 642.08L393.48 647.84L387.08 647.84Z" fill="#595959"/>
<polyline points="48.42,524.49 97.26,605.53 146.09,535.07 194.93,533.97 243.77,524.49 292.61,557.82 341.44,566.87 390.28,543.84" fill="none" stroke="#000" stroke-width="3.0" stroke-linecap="round" stroke-dasharray="5.3 10.7"/><polyline points="48.42,524.49 97.26,605.53 146.09,535.07 194.93,533.97 243.77,524.49 292.61,557.82 341.44,566.87 390.28,543.84" fill="none" stroke="#fff" stroke-opacity="0.85" stroke-width="0.85" stroke-linecap="round" stroke-dasharray="4.3 11.7" stroke-dashoffset="-0.5"/><circle cx="48.42" cy="524.49" r="3.35" fill="#fff" stroke="#000" stroke-width="1.45"/><circle cx="48.42" cy="524.49" r="1.95" fill="#fff" stroke="#111" stroke-width="0.90"/><circle cx="97.26" cy="605.53" r="3.35" fill="#fff" stroke="#000" stroke-width="1.45"/><circle cx="97.26" cy="605.53" r="1.95" fill="#fff" stroke="#111" stroke-width="0.90"/><circle cx="146.09" cy="535.07" r="3.35" fill="#fff" stroke="#000" stroke-width="1.45"/><circle cx="146.09" cy="535.07" r="1.95" fill="#fff" stroke="#111" stroke-width="0.90"/><circle cx="194.93" cy="533.97" r="3.35" fill="#fff" stroke="#000" stroke-width="1.45"/><circle cx="194.93" cy="533.97" r="1.95" fill="#fff" stroke="#111" stroke-width="0.90"/><circle cx="243.77" cy="524.49" r="3.35" fill="#fff" stroke="#000" stroke-width="1.45"/><circle cx="243.77" cy="524.49" r="1.95" fill="#fff" stroke="#111" stroke-width="0.90"/><circle cx="292.61" cy="557.82" r="3.35" fill="#fff" stroke="#000" stroke-width="1.45"/><circle cx="292.61" cy="557.82" r="1.95" fill="#fff" stroke="#111" stroke-width="0.90"/><circle cx="341.44" cy="566.87" r="3.35" fill="#fff" stroke="#000" stroke-width="1.45"/><circle cx="341.44" cy="566.87" r="1.95" fill="#fff" stroke="#111" stroke-width="0.90"/><circle cx="390.28" cy="543.84" r="3.35" fill="#fff" stroke="#000" stroke-width="1.45"/><circle cx="390.28" cy="543.84" r="1.95" fill="#fff" stroke="#111" stroke-width="0.90"/>
<line x1="421.20" y1="445.70" x2="450.00" y2="445.70" stroke="#000" stroke-width="1.0"/>
<rect x="433.49" y="443.58" width="4.23" height="4.23" fill="#000"/>
<text x="454.70" y="449.20" font-size="9.5" font-family="Liberation Sans, sans-serif" fill="#000" stroke="#000" stroke-width="0.42" transform="translate(454.70,0) scale(0.87,1) translate(-454.70,0)">Colantonio et al</text>
<line x1="421.20" y1="462.85" x2="450.00" y2="462.85" stroke="#000" stroke-width="1.0"/>
<path d="M435.60 459.97L438.48 462.85L435.60 465.73L432.72 462.85Z" fill="#000"/>
<text x="454.70" y="466.35" font-size="9.5" font-family="Liberation Sans, sans-serif" fill="#000" stroke="#000" stroke-width="0.42" transform="translate(454.70,0) scale(0.87,1) translate(-454.70,0)">Emanuelson et al</text>
<line x1="421.20" y1="480.00" x2="450.00" y2="480.00" stroke="#000" stroke-width="1.0"/>
<path d="M435.60 477.12L438.48 482.30L432.72 482.30Z" fill="#000"/>
<text x="454.70" y="483.50" font-size="9.5" font-family="Liberation Sans, sans-serif" fill="#000" stroke="#000" stroke-width="0.42" transform="translate(454.70,0) scale(0.87,1) translate(-454.70,0)">Brown et al</text>
<line x1="421.20" y1="497.15" x2="450.00" y2="497.15" stroke="#000" stroke-width="1.0"/>
<circle cx="435.60" cy="497.15" r="2.29" fill="#000"/>
<text x="454.70" y="500.65" font-size="9.5" font-family="Liberation Sans, sans-serif" fill="#000" stroke="#000" stroke-width="0.42" transform="translate(454.70,0) scale(0.87,1) translate(-454.70,0)">Tomberg et al</text>
<line x1="421.20" y1="514.30" x2="450.00" y2="514.30" stroke="#000" stroke-width="1.5" stroke-dasharray="4.5 3.2"/>
<rect x="433.49" y="512.18" width="4.23" height="4.23" fill="#000"/>
<text x="454.70" y="517.80" font-size="9.5" font-family="Liberation Sans, sans-serif" fill="#000" stroke="#000" stroke-width="0.42" transform="translate(454.70,0) scale(0.87,1) translate(-454.70,0)">Lippert-Gruener et al</text>
<line x1="421.20" y1="531.45" x2="450.00" y2="531.45" stroke="#000" stroke-width="1.5" stroke-dasharray="4.5 3.2"/>
<path d="M435.60 528.57L438.48 531.45L435.60 534.33L432.72 531.45Z" fill="#000"/>
<text x="454.70" y="534.95" font-size="9.5" font-family="Liberation Sans, sans-serif" fill="#000" stroke="#000" stroke-width="0.42" transform="translate(454.70,0) scale(0.87,1) translate(-454.70,0)">Heitger et al</text>
<line x1="421.20" y1="548.60" x2="450.00" y2="548.60" stroke="#000" stroke-width="1.5" stroke-dasharray="4.5 3.2"/>
<path d="M435.60 545.72L438.48 550.90L432.72 550.90Z" fill="#000"/>
<text x="454.70" y="552.10" font-size="9.5" font-family="Liberation Sans, sans-serif" fill="#000" stroke="#000" stroke-width="0.42" transform="translate(454.70,0) scale(0.87,1) translate(-454.70,0)">Lee et al</text>
<line x1="421.20" y1="565.75" x2="450.00" y2="565.75" stroke="#000" stroke-width="1.5" stroke-dasharray="4.5 3.2"/>
<circle cx="435.60" cy="565.75" r="2.29" fill="#000"/>
<text x="454.70" y="569.25" font-size="9.5" font-family="Liberation Sans, sans-serif" fill="#000" stroke="#000" stroke-width="0.42" transform="translate(454.70,0) scale(0.87,1) translate(-454.70,0)">Lima et al</text>
<line x1="421.20" y1="582.90" x2="450.00" y2="582.90" stroke="#6a6a6a" stroke-width="1.0"/>
<rect x="433.49" y="580.78" width="4.23" height="4.23" fill="#595959"/>
<text x="454.70" y="586.40" font-size="9.5" font-family="Liberation Sans, sans-serif" fill="#000" stroke="#000" stroke-width="0.42" transform="translate(454.70,0) scale(0.87,1) translate(-454.70,0)">Andelic et al 2009</text>
<line x1="421.20" y1="600.05" x2="450.00" y2="600.05" stroke="#6a6a6a" stroke-width="1.0"/>
<path d="M435.60 597.17L438.48 600.05L435.60 602.93L432.72 600.05Z" fill="#595959"/>
<text x="454.70" y="603.55" font-size="9.5" font-family="Liberation Sans, sans-serif" fill="#000" stroke="#000" stroke-width="0.42" transform="translate(454.70,0) scale(0.87,1) translate(-454.70,0)">Nestvold et al</text>
<line x1="421.20" y1="617.20" x2="450.00" y2="617.20" stroke="#6a6a6a" stroke-width="1.0"/>
<path d="M435.60 614.32L438.48 619.50L432.72 619.50Z" fill="#595959"/>
<text x="454.70" y="620.70" font-size="9.5" font-family="Liberation Sans, sans-serif" fill="#000" stroke="#000" stroke-width="0.42" transform="translate(454.70,0) scale(0.87,1) translate(-454.70,0)">Jacobsson et al</text>
<line x1="421.20" y1="634.35" x2="450.00" y2="634.35" stroke="#6a6a6a" stroke-width="1.0"/>
<circle cx="435.60" cy="634.35" r="2.29" fill="#595959"/>
<text x="454.70" y="637.85" font-size="9.5" font-family="Liberation Sans, sans-serif" fill="#000" stroke="#000" stroke-width="0.42" transform="translate(454.70,0) scale(0.87,1) translate(-454.70,0)">Arango-Lasprilla et al</text>
<line x1="421.20" y1="651.50" x2="450.00" y2="651.50" stroke="#555" stroke-width="1.5" stroke-dasharray="4.6 3.2"/>
<rect x="433.49" y="649.38" width="4.23" height="4.23" fill="#595959"/>
<text x="454.70" y="655.00" font-size="9.5" font-family="Liberation Sans, sans-serif" fill="#000" stroke="#000" stroke-width="0.42" transform="translate(454.70,0) scale(0.87,1) translate(-454.70,0)">Beseoglu et al</text>
<line x1="421.20" y1="668.65" x2="450.00" y2="668.65" stroke="#555" stroke-width="1.5" stroke-dasharray="4.6 3.2"/>
<path d="M435.60 665.77L438.48 668.65L435.60 671.53L432.72 668.65Z" fill="#595959"/>
<text x="454.70" y="672.15" font-size="9.5" font-family="Liberation Sans, sans-serif" fill="#000" stroke="#000" stroke-width="0.42" transform="translate(454.70,0) scale(0.87,1) translate(-454.70,0)">Hu et al</text>
<line x1="421.20" y1="685.80" x2="450.00" y2="685.80" stroke="#555" stroke-width="1.5" stroke-dasharray="4.6 3.2"/>
<path d="M435.60 682.92L438.48 688.10L432.72 688.10Z" fill="#595959"/>
<text x="454.70" y="689.30" font-size="9.5" font-family="Liberation Sans, sans-serif" fill="#000" stroke="#000" stroke-width="0.42" transform="translate(454.70,0) scale(0.87,1) translate(-454.70,0)">Van Baalen et al</text>
<line x1="420.70" y1="702.95" x2="450.00" y2="702.95" stroke="#000" stroke-width="2.6" stroke-dasharray="8.5 8.5"/>
<circle cx="435.60" cy="702.95" r="3.35" fill="#fff" stroke="#000" stroke-width="1.45"/><circle cx="435.60" cy="702.95" r="1.95" fill="#fff" stroke="#111" stroke-width="0.90"/>
<text x="454.70" y="706.45" font-size="9.5" font-family="Liberation Sans, sans-serif" fill="#000" stroke="#000" stroke-width="0.42" transform="translate(454.70,0) scale(0.87,1) translate(-454.70,0)">Random effect weighted mean</text>
</svg>
</body></html>
